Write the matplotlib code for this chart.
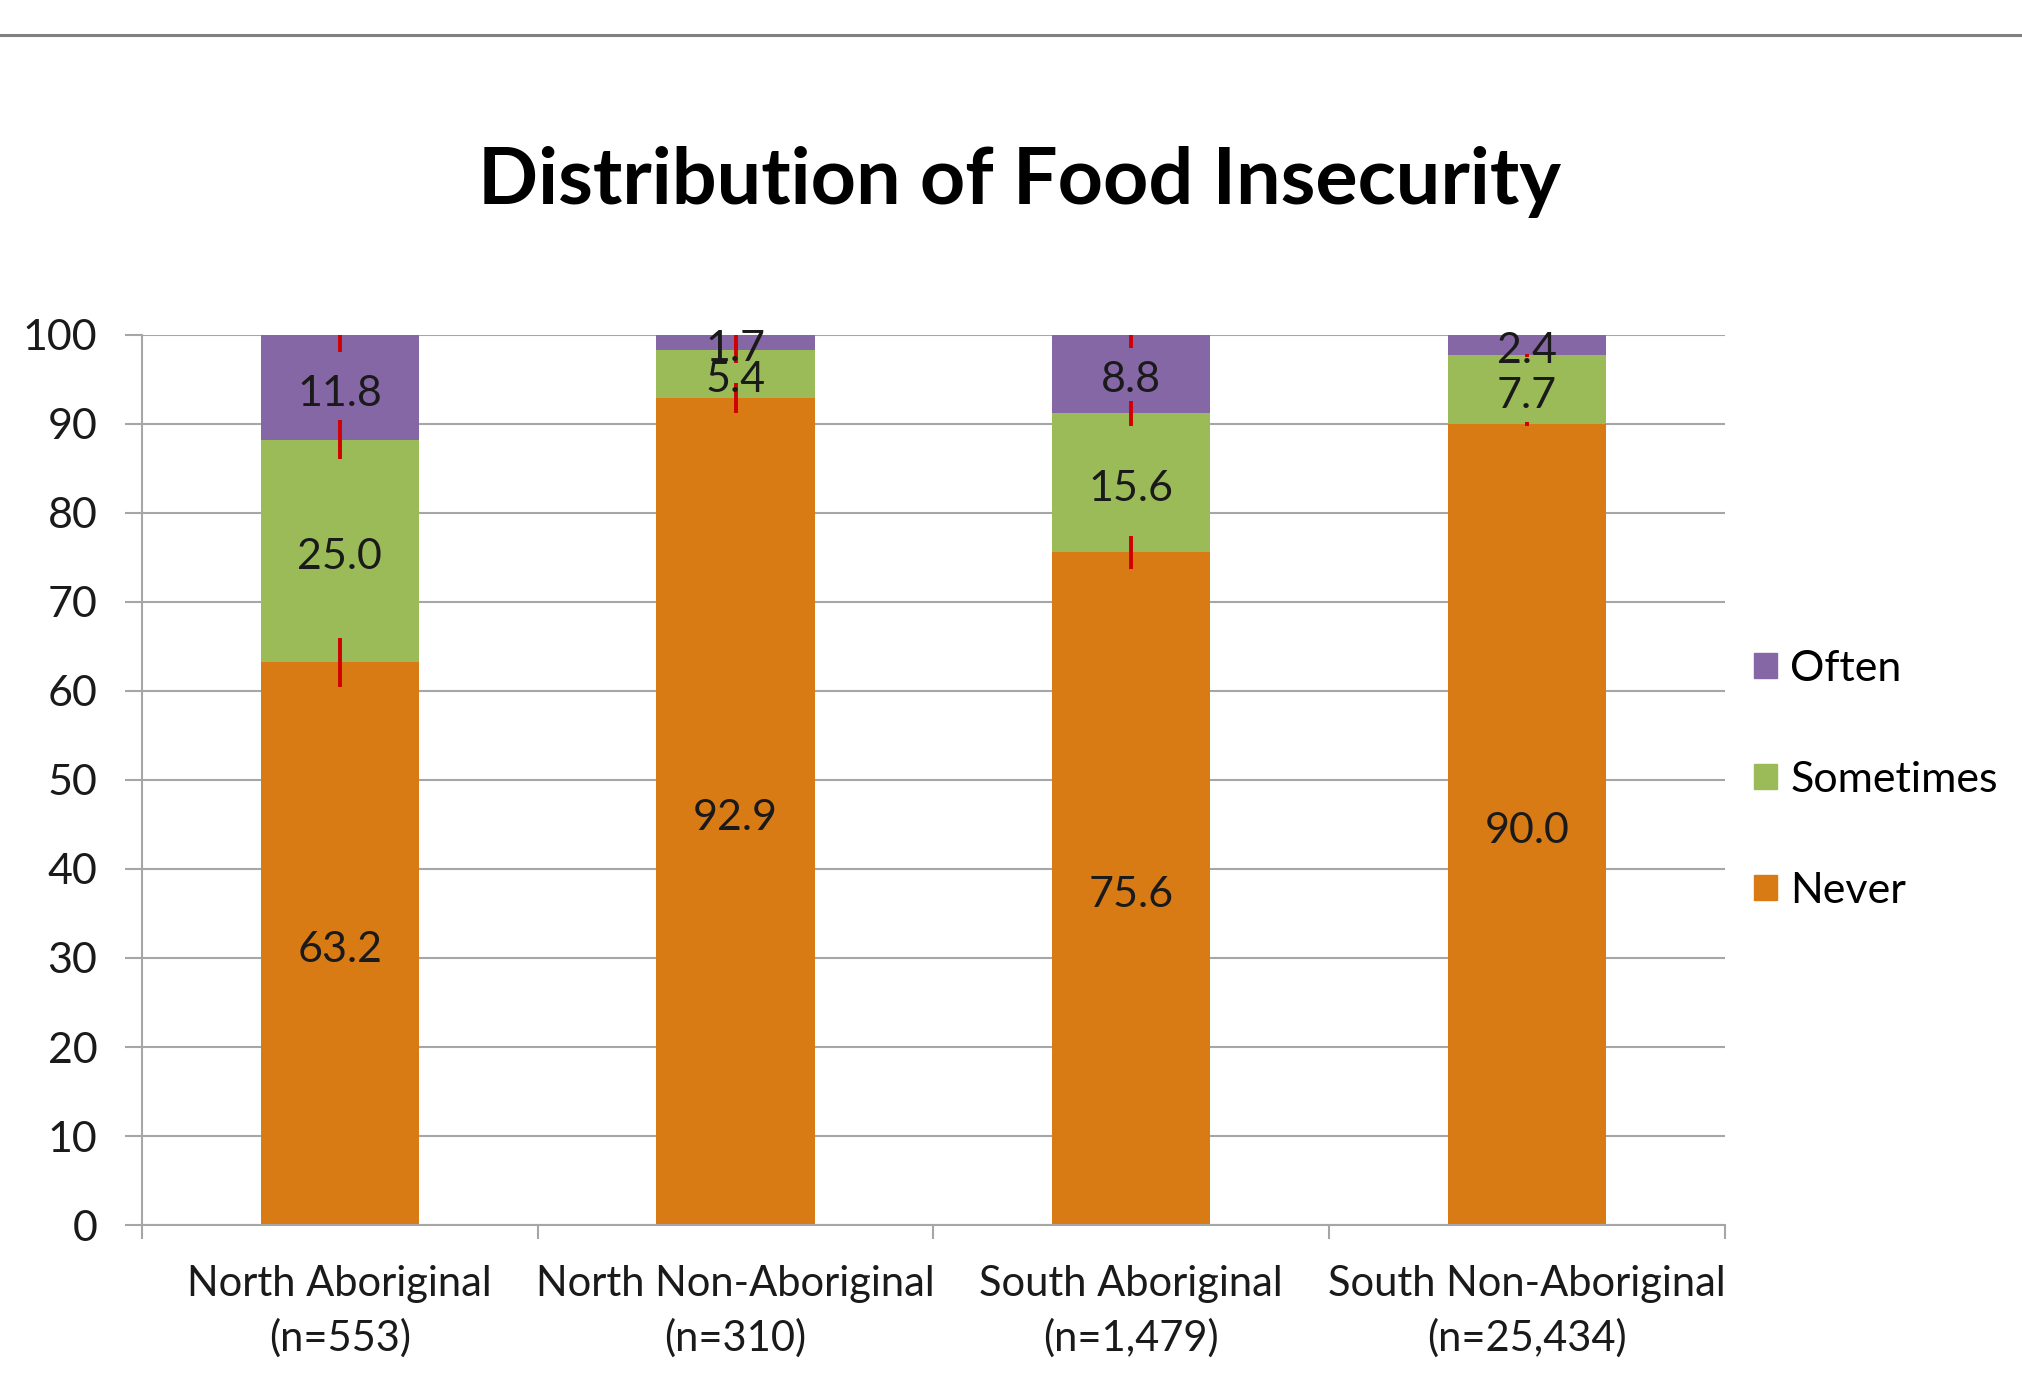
import numpy as np
import matplotlib
matplotlib.use("Agg")
import matplotlib.pyplot as plt
from matplotlib.lines import Line2D
from matplotlib.patches import Patch

plt.rcParams["font.family"] = ["Lato", "DejaVu Sans"]

# data (percent)
groups = ["North Aboriginal\n(n=553)", "North Non-Aboriginal\n(n=310)",
          "South Aboriginal\n(n=1,479)", "South Non-Aboriginal\n(n=25,434)"]
never = [63.2, 92.9, 75.6, 90.0]
sometimes = [25.0, 5.4, 15.6, 7.7]
often = [11.8, 1.7, 8.8, 2.4]
# half-width of the red error marks at each stacked segment top
never_err = [2.75, 1.7, 1.85, 0.2]
sometimes_err = [2.2, 1.5, 1.4, 0.15]
often_err = [1.9, 1.2, 1.5, 0.15]

C_NEVER = "#D97B14"
C_SOME = "#9BBB59"
C_OFTEN = "#8667A6"
C_GRID = "#A6A6A6"
C_ERR = "#D00000"
FS = 31      # numbers and legend
FS_CAT = 30  # category labels

x = np.arange(len(groups))
never_a = np.array(never)
some_a = np.array(sometimes)
often_a = np.array(often)

fig = plt.figure(figsize=(20.22, 13.78), dpi=100)
ax = fig.add_axes([0.0702, 0.111, 0.7828, 0.646])

w = 0.4
ax.bar(x, never_a, w, color=C_NEVER, zorder=2)
ax.bar(x, some_a, w, bottom=never_a, color=C_SOME, zorder=2)
ax.bar(x, often_a, w, bottom=never_a + some_a, color=C_OFTEN, zorder=2)

tops = [never_a, never_a + some_a, never_a + some_a + often_a]
for t, e in zip(tops, [never_err, sometimes_err, often_err]):
    ax.errorbar(x, t, yerr=e, fmt="none", ecolor=C_ERR, elinewidth=2.8,
                capsize=0, zorder=3)

# segment labels (nudged down a little, like the original)
for vals, base in [(never_a, 0), (some_a, never_a), (often_a, never_a + some_a)]:
    for xi, v, b in zip(x, vals, np.broadcast_to(base, vals.shape)):
        ax.annotate(f"{v:.1f}", (xi, b + v / 2), xytext=(0, -4.5),
                    textcoords="offset points", ha="center", va="center",
                    fontsize=FS, color="#1a1a1a", zorder=4)

ax.set_xlim(-0.5, len(groups) - 0.5)
ax.set_ylim(0, 100)
ax.set_yticks(range(0, 101, 10))
ax.set_xticks(x)
ax.set_xticklabels(groups, fontsize=FS_CAT, linespacing=1.47, color="#1a1a1a")
ax.set_xticks(np.arange(-0.5, len(groups), 1), minor=True)
ax.tick_params(axis="x", which="major", length=0, pad=29)
ax.tick_params(axis="x", which="minor", length=10, width=1.5, color=C_GRID,
               direction="out")
ax.tick_params(axis="y", length=12, width=1.5, color=C_GRID, pad=20,
               labelsize=FS, labelcolor="#1a1a1a")
ax.yaxis.grid(True, color=C_GRID, linewidth=1.5, zorder=0)
ax.set_axisbelow(True)
for s in ["top", "right"]:
    ax.spines[s].set_visible(False)
for s in ["left", "bottom"]:
    ax.spines[s].set_color(C_GRID)
    ax.spines[s].set_linewidth(1.5)

handles = [Patch(color=C_OFTEN), Patch(color=C_SOME), Patch(color=C_NEVER)]
fig.legend(handles, ["Often", "Sometimes", "Never"], loc="center left",
           bbox_to_anchor=(0.859, 0.434), frameon=False, fontsize=FS,
           handlelength=0.52, handleheight=0.52, handletextpad=0.32,
           labelspacing=1.7, borderaxespad=0)

fig.text(0.504, 0.868, "Distribution of Food Insecurity", ha="center",
         va="center", fontsize=57, fontweight="bold", color="black")

fig.add_artist(Line2D([0, 1], [0.9746, 0.9746], transform=fig.transFigure,
                      color="#808080", linewidth=2.2))

fig.savefig("out.png", dpi=100)
